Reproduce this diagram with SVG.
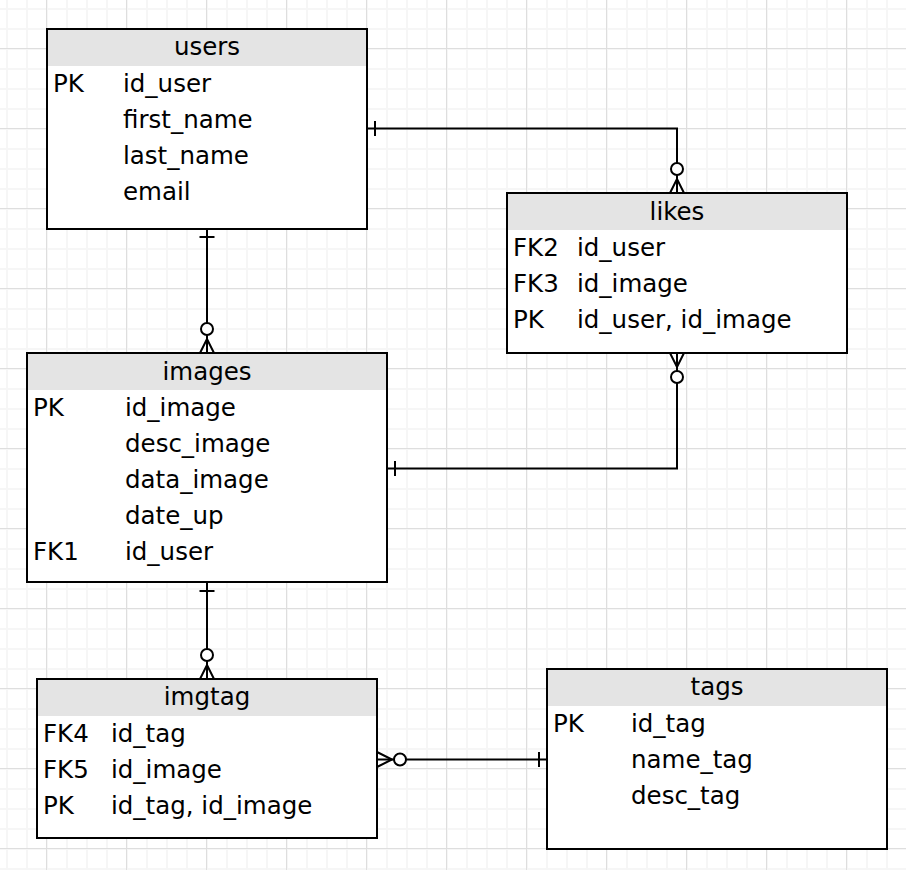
<svg xmlns="http://www.w3.org/2000/svg" width="906" height="870" viewBox="0 0 906 870">
  <style>
    .box { fill: #ffffff; stroke: #000000; stroke-width: 2; }
    .head { fill: #e4e4e4; }
    .t { font-family: "DejaVu Sans", Verdana, sans-serif; font-size: 24.5px; fill: #000000; }
    .title { text-anchor: middle; }
    .wire { fill: none; stroke: #000000; stroke-width: 2; }
    .ring { fill: #ffffff; stroke: #000000; stroke-width: 2; }
  </style>
  <defs>
    <pattern id="gridMinor" x="6" y="8" width="20" height="20" patternUnits="userSpaceOnUse">
      <path d="M1,0 V20 M0,1 H20" fill="none" stroke="#f6f6f6" stroke-width="2"/>
    </pattern>
    <pattern id="gridMajor" x="46" y="48" width="80" height="80" patternUnits="userSpaceOnUse">
      <path d="M0.5,0 V80 M0,0.5 H80" fill="none" stroke="#dedede" stroke-width="1"/>
    </pattern>
  </defs>

  <!-- background grid -->
  <rect width="906" height="870" fill="#ffffff"/>
  <rect width="906" height="870" fill="url(#gridMinor)"/>
  <rect width="906" height="870" fill="url(#gridMajor)"/>

  <!-- relationships -->
  <g id="connectors">
    <!-- users 1 — 0..n likes -->
    <path class="wire" d="M367,128.5 H677 V193"/>
    <path class="wire" d="M375,121 V136"/>
    <path class="wire" d="M670,193 L677,179 L684,193"/>
    <circle class="ring" cx="677" cy="169" r="6"/>

    <!-- users 1 — 0..n images -->
    <path class="wire" d="M207,229 V353"/>
    <path class="wire" d="M199.5,237 H214.5"/>
    <path class="wire" d="M200,353 L207,339 L214,353"/>
    <circle class="ring" cx="207" cy="329" r="6"/>

    <!-- images 1 — 0..n likes -->
    <path class="wire" d="M677,353 V468.5 H387"/>
    <path class="wire" d="M670,353 L677,367 L684,353"/>
    <circle class="ring" cx="677" cy="377" r="6"/>
    <path class="wire" d="M395,461 V476"/>

    <!-- images 1 — 0..n imgtag -->
    <path class="wire" d="M207,582 V679"/>
    <path class="wire" d="M199.5,591 H214.5"/>
    <path class="wire" d="M200,679 L207,665 L214,679"/>
    <circle class="ring" cx="207" cy="655" r="6"/>

    <!-- tags 1 — 0..n imgtag -->
    <path class="wire" d="M377,759.5 H547"/>
    <path class="wire" d="M377,752 L392,759.5 L377,767"/>
    <circle class="ring" cx="400" cy="759.5" r="6"/>
    <path class="wire" d="M539,752 V767"/>
  </g>

  <!-- users table -->
  <g id="users">
    <rect class="box" x="47" y="29" width="320" height="200"/>
    <rect class="head" x="48" y="30" width="318" height="36"/>
    <text class="t title" x="207" y="55">users</text>
    <text class="t" x="53" y="92">PK</text>
    <text class="t" x="123" y="92">id_user</text>
    <text class="t" x="123" y="128">first_name</text>
    <text class="t" x="123" y="164">last_name</text>
    <text class="t" x="123" y="200">email</text>
  </g>

  <!-- likes table -->
  <g id="likes">
    <rect class="box" x="507" y="193" width="340" height="160"/>
    <rect class="head" x="508" y="194" width="338" height="36"/>
    <text class="t title" x="677" y="220">likes</text>
    <text class="t" x="513" y="256">FK2</text>
    <text class="t" x="577" y="256">id_user</text>
    <text class="t" x="513" y="292">FK3</text>
    <text class="t" x="577" y="292">id_image</text>
    <text class="t" x="513" y="328">PK</text>
    <text class="t" x="577" y="328">id_user, id_image</text>
  </g>

  <!-- images table -->
  <g id="images">
    <rect class="box" x="27" y="353" width="360" height="229"/>
    <rect class="head" x="28" y="354" width="358" height="36"/>
    <text class="t title" x="207" y="380">images</text>
    <text class="t" x="33" y="416">PK</text>
    <text class="t" x="125" y="416">id_image</text>
    <text class="t" x="125" y="452">desc_image</text>
    <text class="t" x="125" y="488">data_image</text>
    <text class="t" x="125" y="524">date_up</text>
    <text class="t" x="33" y="560">FK1</text>
    <text class="t" x="125" y="560">id_user</text>
  </g>

  <!-- imgtag table -->
  <g id="imgtag">
    <rect class="box" x="37" y="679" width="340" height="159"/>
    <rect class="head" x="38" y="680" width="338" height="36"/>
    <text class="t title" x="207" y="705">imgtag</text>
    <text class="t" x="43" y="742">FK4</text>
    <text class="t" x="111" y="742">id_tag</text>
    <text class="t" x="43" y="778">FK5</text>
    <text class="t" x="111" y="778">id_image</text>
    <text class="t" x="43" y="814">PK</text>
    <text class="t" x="111" y="814">id_tag, id_image</text>
  </g>

  <!-- tags table -->
  <g id="tags">
    <rect class="box" x="547" y="669" width="340" height="180"/>
    <rect class="head" x="548" y="670" width="338" height="36"/>
    <text class="t title" x="717" y="695">tags</text>
    <text class="t" x="553" y="732">PK</text>
    <text class="t" x="631" y="732">id_tag</text>
    <text class="t" x="631" y="768">name_tag</text>
    <text class="t" x="631" y="804">desc_tag</text>
  </g>
</svg>
